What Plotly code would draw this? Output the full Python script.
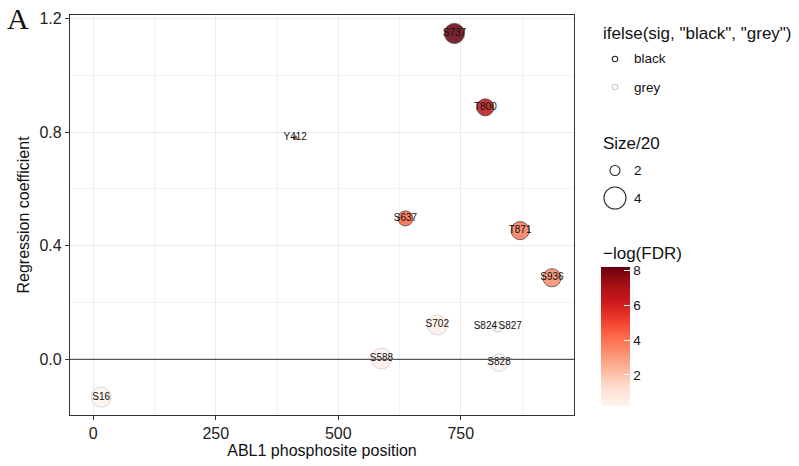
import numpy as np
import plotly.graph_objects as go

# ABL1 phosphosites: position, regression coefficient, Size/20, -log(FDR), significance
site_labels = ["S16", "S588", "S702", "S824", "S827", "S828", "S936", "T871", "S637", "T800", "S737", "Y412"]
site_position = [16, 588, 702, 824, 827, 828, 936, 871, 637, 800, 737, 412]
regression_coef = [-0.133, 0.003, 0.121, 0.114, 0.114, -0.012, 0.287, 0.453, 0.496, 0.887, 1.147, 0.780]
size_over_20 = [3.6, 3.75, 3.6, 2.0, 2.0, 3.05, 3.2, 3.2, 2.65, 3.0, 3.6, 1.56]
neg_log_fdr = [0.40, 0.40, 0.50, 0.30, 0.30, 0.24, 3.40, 3.80, 4.30, 6.60, 8.20, 4.40]
significant = [False, False, False, False, False, False, True, True, True, True, True, True]
# label placement (S824/S827 sit on top of each other, so push them apart)
label_anchor = ["middle center"] * 3 + ["middle left", "middle right"] + ["middle center"] * 7

outline_levels = ["black", "grey"]
size_breaks = [2, 4]
fdr_ticks = [2, 4, 6, 8]

# Brewer "Reds" sequential palette
reds = ["#FFF5F0", "#FEE0D2", "#FCBBA1", "#FC9272", "#FB6A4A",
        "#EF3B2C", "#CB181D", "#A50F15", "#67000D"]
reds_scale = [[i / (len(reds) - 1), c] for i, c in enumerate(reds)]

OUTLINE = {"black": "#2b2b2b", "grey": "#c8c8c8"}
SANS = "Liberation Sans, Arial, Helvetica, sans-serif"

W, H = 799, 466
ML, MR, MT, MB = 70, 225, 15, 51
PW, PH = W - ML - MR, H - MT - MB


def size_to_diameter(v):
    # area scale: Size/20 of 2 -> 10 px, 4 -> 22 px across
    v = np.asarray(v, dtype=float)
    area = 100 + (484 - 100) / 2.0 * (v - 2)
    return np.sqrt(np.clip(area, 4, None))


def px_x(px):
    return (px - ML) / PW


def px_y(py):
    return (H - MB - py) / PH


outline = [OUTLINE["black"] if s else OUTLINE["grey"] for s in significant]

fig = go.Figure()

# points
fig.add_trace(go.Scatter(
    x=site_position, y=regression_coef,
    mode="markers",
    marker=dict(
        size=size_to_diameter(size_over_20),
        color=neg_log_fdr,
        colorscale=reds_scale,
        cmin=min(neg_log_fdr), cmax=max(neg_log_fdr),
        opacity=0.85,
        line=dict(color=outline, width=0.8),
        colorbar=dict(
            x=px_x(601), xanchor="left",
            y=px_y(266.7), yanchor="top",
            lenmode="pixels", len=139,
            thickness=29, thicknessmode="pixels",
            outlinewidth=0,
            tickvals=fdr_ticks,
            ticks="inside", ticklen=6, tickcolor="white", tickwidth=1,
            tickfont=dict(family=SANS, size=13.5, color="#111"),
            xpad=0, ypad=0,
        ),
    ),
    showlegend=False,
    hoverinfo="skip",
))

# zero reference line, drawn across the points
fig.add_hline(y=0, line=dict(color="#555555", width=1.2), layer="above")

# site labels on top of the points
fig.add_trace(go.Scatter(
    x=site_position, y=regression_coef,
    mode="text",
    text=site_labels,
    textposition=label_anchor,
    textfont=dict(family=SANS, size=10, color="#111111"),
    showlegend=False,
    hoverinfo="skip",
))

fig.update_layout(
    width=W, height=H,
    margin=dict(l=ML, r=MR, t=MT, b=MB),
    paper_bgcolor="white", plot_bgcolor="white",
    font=dict(family=SANS, color="#111"),
    showlegend=False,
    xaxis=dict(
        range=[-47.6, 981], tickvals=[0, 250, 500, 750],
        minor=dict(dtick=125, tick0=0, showgrid=True, gridcolor="#F2F2F2", gridwidth=1),
        showgrid=True, gridcolor="#EBEBEB", gridwidth=1.2,
        zeroline=False, automargin=False,
        showline=True, linecolor="#333333", linewidth=1.2, mirror=True,
        ticks="outside", ticklen=4, tickcolor="#333333",
        tickfont=dict(size=16, color="#222"),
        title=dict(text="ABL1 phosphosite position", font=dict(size=16, color="#111"), standoff=0),
    ),
    yaxis=dict(
        range=[-0.196, 1.212], tickvals=[0.0, 0.4, 0.8, 1.2], ticktext=["0.0", "0.4", "0.8", "1.2"],
        minor=dict(dtick=0.2, tick0=0, showgrid=True, gridcolor="#F2F2F2", gridwidth=1),
        showgrid=True, gridcolor="#EBEBEB", gridwidth=1.2,
        zeroline=False, automargin=False,
        showline=True, linecolor="#333333", linewidth=1.2, mirror=True,
        ticks="outside", ticklen=4, tickcolor="#333333",
        tickfont=dict(size=16, color="#222"),
        title=dict(text="Regression coefficient", font=dict(size=16, color="#111"), standoff=5),
    ),
)

annotations = [
    dict(text="A", xref="paper", yref="paper", x=px_x(5), y=px_y(0),
         xanchor="left", yanchor="top", showarrow=False,
         font=dict(family="Liberation Serif, Times New Roman, serif", size=30, color="#111")),
]
shapes = []


def legend_block(title, title_y, labels, rows_y, diameters, colors):
    annotations.append(dict(
        text=title, xref="paper", yref="paper", x=px_x(601), y=px_y(title_y),
        xanchor="left", yanchor="middle", showarrow=False,
        font=dict(family=SANS, size=17, color="#111")))
    for lab, cy, d, col in zip(labels, rows_y, diameters, colors):
        shapes.append(dict(
            type="circle", xref="paper", yref="paper",
            xsizemode="pixel", ysizemode="pixel",
            xanchor=px_x(615), yanchor=px_y(cy),
            x0=-d / 2, x1=d / 2, y0=-d / 2, y1=d / 2,
            line=dict(color=col, width=1.1), fillcolor="rgba(0,0,0,0)"))
        annotations.append(dict(
            text=str(lab), xref="paper", yref="paper", x=px_x(632), y=px_y(cy),
            xanchor="left", yanchor="middle", showarrow=False,
            font=dict(family=SANS, size=13.5, color="#111")))


# outline-colour legend
legend_block('ifelse(sig, "black", "grey")', 33, outline_levels, [59, 87],
             [5.5, 5.5], [OUTLINE[l] for l in outline_levels])
# size legend
legend_block("Size/20", 143, size_breaks, [170.5, 198],
             [float(d) for d in size_to_diameter(size_breaks)], ["#2b2b2b"] * 2)
# colour-bar title
annotations.append(dict(
    text="\u2212log(FDR)", xref="paper", yref="paper", x=px_x(601), y=px_y(253.5),
    xanchor="left", yanchor="middle", showarrow=False,
    font=dict(family=SANS, size=17, color="#111")))

fig.update_layout(annotations=annotations, shapes=list(fig.layout.shapes) + shapes)

fig.write_html("out.html")
